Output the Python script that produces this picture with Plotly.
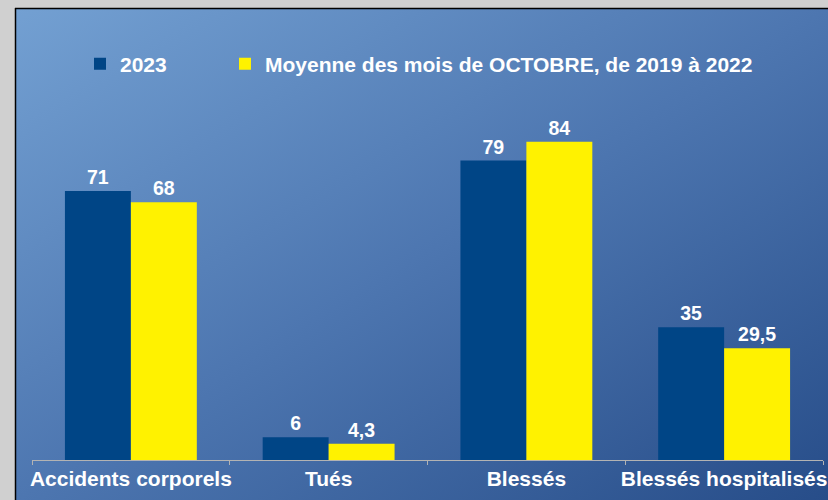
import base64
import plotly.graph_objects as go

categories = ["Accidents corporels", "Tués", "Blessés", "Blessés hospitalisés"]
values_2023 = [71, 6, 79, 35]
values_moyenne = [68, 4.3, 84, 29.5]
series_names = ["2023", "Moyenne des mois de OCTOBRE, de 2019 à 2022"]

W, H = 828, 500
ML, MR, MT, MB = 32, 5, 100, 40
PW, PH = W - ML - MR, H - MT - MB


def px_x(p):
    return (p - ML) / PW


def px_y(p):
    return (H - MB - p) / PH


def fmt(v):
    return str(v).replace(".", ",")


font_family = "Liberation Sans, Arial, sans-serif"

svg = (
    '<svg xmlns="http://www.w3.org/2000/svg" width="812" height="491" '
    'viewBox="0 0 812 491" preserveAspectRatio="none">'
    '<defs><linearGradient id="g" x1="0" y1="0" x2="1" y2="1">'
    '<stop offset="0" stop-color="#73a0d2"/>'
    '<stop offset="0.5" stop-color="#4d76b0"/>'
    '<stop offset="1" stop-color="#274d89"/>'
    '</linearGradient></defs>'
    '<rect x="0" y="0" width="812" height="491" fill="url(#g)"/></svg>'
)
svg_uri = "data:image/svg+xml;base64," + base64.b64encode(svg.encode()).decode()

label_font = dict(color="white", size=19.5, family=font_family, weight="bold")

fig = go.Figure()
fig.add_trace(go.Bar(
    x=categories, y=values_2023, name=series_names[0], legend="legend",
    showlegend=True,
    marker=dict(color="#004586", line=dict(width=0)),
    text=[fmt(v) for v in values_2023], textposition="outside",
    textfont=label_font, cliponaxis=False,
))
fig.add_trace(go.Bar(
    x=categories, y=values_moyenne, name=series_names[1], legend="legend2",
    showlegend=True,
    marker=dict(color="#fff200", line=dict(width=0)),
    text=[fmt(v) for v in values_moyenne], textposition="outside",
    textfont=label_font, cliponaxis=False,
))

legend_common = dict(
    orientation="h", yanchor="middle", xanchor="left", visible=True,
    font=dict(size=21, color="white", family=font_family, weight="bold"),
    bgcolor="rgba(0,0,0,0)", itemwidth=30,
)

fig.update_layout(
    width=W, height=H,
    showlegend=True,
    margin=dict(l=ML, r=MR, t=MT, b=MB, autoexpand=False),
    paper_bgcolor="#d0d0d0",
    plot_bgcolor="rgba(0,0,0,0)",
    barmode="group", bargap=0.333, bargroupgap=0,
    font=dict(family=font_family, color="white"),
    legend=dict(x=px_x(80), y=px_y(64), **legend_common),
    legend2=dict(x=px_x(225), y=px_y(64), **legend_common),
    xaxis=dict(
        showline=True, linecolor="#b3b3b3", linewidth=1,
        ticks="outside", tickson="boundaries", ticklen=4, tickcolor="#b3b3b3",
        tickangle=0,
        tickfont=dict(size=21, color="white", family=font_family, weight="bold"),
        showgrid=False, zeroline=False, fixedrange=True,
    ),
    yaxis=dict(
        range=[0, PH / 3.79], visible=False, showgrid=False, zeroline=False,
    ),
    images=[dict(
        source=svg_uri, xref="paper", yref="paper",
        x=px_x(16), y=px_y(9), sizex=px_x(W) - px_x(16), sizey=px_y(9) - px_y(H),
        xanchor="left", yanchor="top", sizing="stretch", layer="below",
    )],
    shapes=[
        dict(type="line", xref="paper", yref="paper",
             x0=px_x(15.5), x1=px_x(15.5), y0=px_y(8), y1=px_y(H),
             line=dict(color="black", width=1.5)),
        dict(type="line", xref="paper", yref="paper",
             x0=px_x(15), x1=px_x(W), y0=px_y(8.5), y1=px_y(8.5),
             line=dict(color="black", width=1.5)),
    ],
)

fig.write_html(
    "out.html",
    config={"displayModeBar": False},
    post_script="document.body.style.margin='0';document.body.style.overflow='hidden';",
)
